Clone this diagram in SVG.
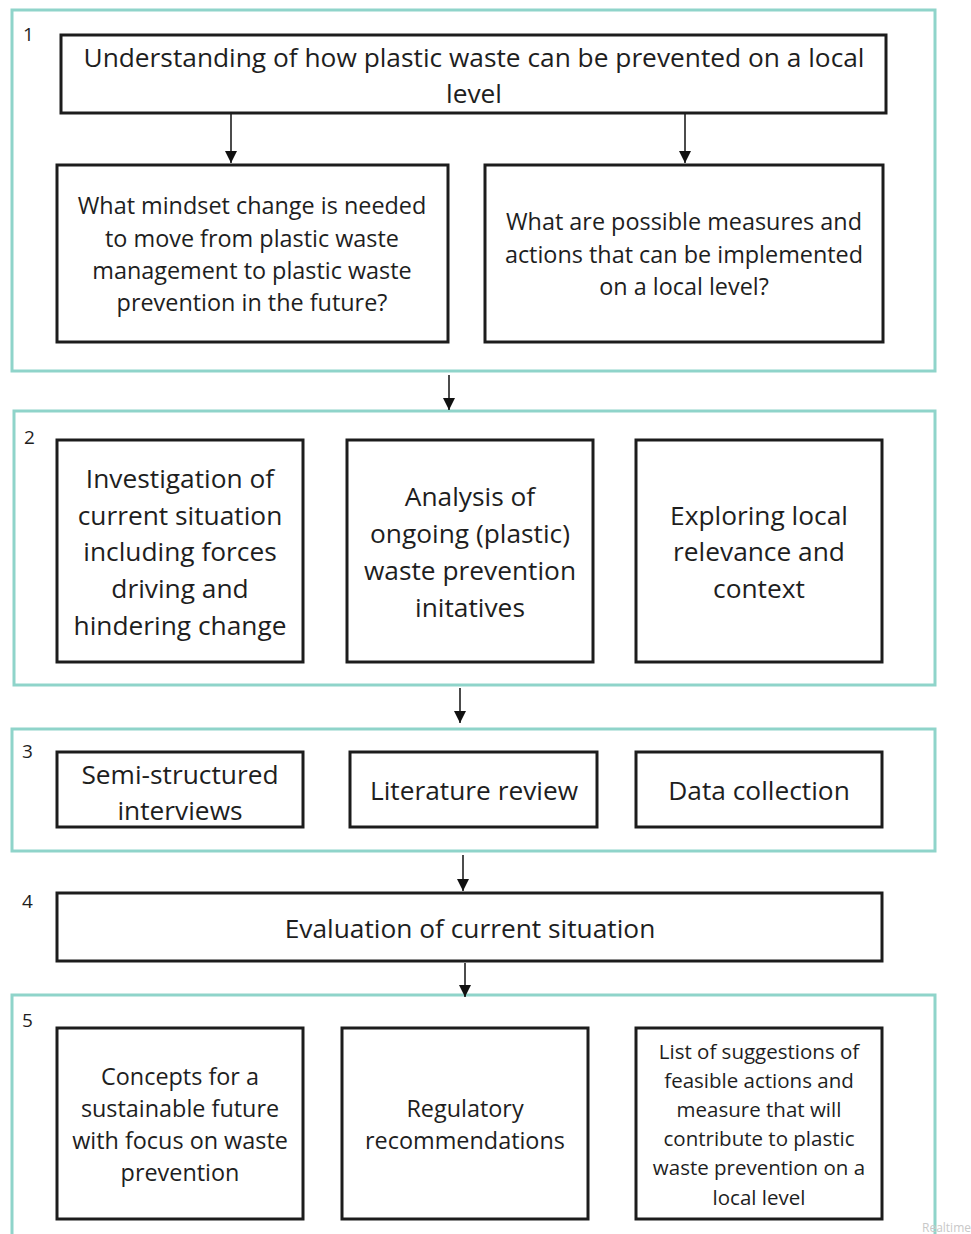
<svg xmlns="http://www.w3.org/2000/svg" width="971" height="1234" viewBox="0 0 971 1234">
  <style>
    .frame { fill: none; stroke: #8fd4ca; stroke-width: 3; }
    .box { fill: #ffffff; stroke: #1c1c1c; stroke-width: 3; }
    .t { font-family: "Open Sans", "Liberation Sans", sans-serif; fill: #1e1e1e; text-anchor: middle; }
    .lg { font-size: 26.3px; }
    .md { font-size: 23.4px; }
    .sm { font-size: 20.5px; }
    .num { font-family: "Open Sans", "Liberation Sans", sans-serif; font-size: 19px; fill: #1e1e1e; }
    .conn { stroke: #111; stroke-width: 1.5; fill: none; marker-end: url(#arrow); }
    .wm { font-family: "Open Sans", "Liberation Sans", sans-serif; font-size: 12px; fill: #c8c8c8; }
  </style>
  <defs>
    <marker id="arrow" viewBox="0 0 12 22" refX="12" refY="11" markerWidth="12" markerHeight="22" markerUnits="userSpaceOnUse" orient="auto">
      <path d="M0,5 L12,11 L0,17 Z" fill="#111"/>
    </marker>
  </defs>
  <rect width="971" height="1234" fill="#ffffff"/>

  <!-- phase frames -->
  <g id="frames">
    <rect class="frame" x="12" y="10" width="923" height="361"/>
    <rect class="frame" x="14" y="411" width="921" height="274"/>
    <rect class="frame" x="12" y="729" width="923" height="122"/>
    <path class="frame" d="M12,1240 L12,995 L935,995 L935,1240"/>
  </g>

  <g id="labels">
    <text class="num" x="23" y="41">1</text>
    <text class="num" x="24" y="444">2</text>
    <text class="num" x="22" y="758">3</text>
    <text class="num" x="22" y="908">4</text>
    <text class="num" x="22" y="1027">5</text>
  </g>

  <!-- connectors -->
  <g id="connectors">
    <line class="conn" x1="231" y1="114" x2="231" y2="163"/>
    <line class="conn" x1="685" y1="114" x2="685" y2="163"/>
    <line class="conn" x1="449" y1="375" x2="449" y2="410"/>
    <line class="conn" x1="460" y1="688" x2="460" y2="723"/>
    <line class="conn" x1="463" y1="855" x2="463" y2="891"/>
    <line class="conn" x1="465" y1="963" x2="465" y2="997"/>
  </g>

  <!-- phase 1 -->
  <g id="n-understanding">
    <rect class="box" x="61" y="35" width="825" height="78"/>
    <text class="t lg" x="474" y="67">Understanding of how plastic waste can be prevented on a local</text>
    <text class="t lg" x="474" y="103">level</text>
  </g>
  <g id="n-mindset">
    <rect class="box" x="57" y="165" width="391" height="177"/>
    <text class="t md" x="252" y="214">What mindset change is needed</text>
    <text class="t md" x="252" y="247">to move from plastic waste</text>
    <text class="t md" x="252" y="279">management to plastic waste</text>
    <text class="t md" x="252" y="311">prevention in the future?</text>
  </g>
  <g id="n-measures">
    <rect class="box" x="485" y="165" width="398" height="177"/>
    <text class="t md" x="684" y="230">What are possible measures and</text>
    <text class="t md" x="684" y="263">actions that can be implemented</text>
    <text class="t md" x="684" y="295">on a local level?</text>
  </g>

  <!-- phase 2 -->
  <g id="n-investigation">
    <rect class="box" x="57" y="440" width="246" height="222"/>
    <text class="t lg" x="180" y="488">Investigation of</text>
    <text class="t lg" x="180" y="525">current situation</text>
    <text class="t lg" x="180" y="561">including forces</text>
    <text class="t lg" x="180" y="598">driving and</text>
    <text class="t lg" x="180" y="635">hindering change</text>
  </g>
  <g id="n-analysis">
    <rect class="box" x="347" y="440" width="246" height="222"/>
    <text class="t lg" x="470" y="506">Analysis of</text>
    <text class="t lg" x="470" y="543">ongoing (plastic)</text>
    <text class="t lg" x="470" y="580">waste prevention</text>
    <text class="t lg" x="470" y="617">initatives</text>
  </g>
  <g id="n-exploring">
    <rect class="box" x="636" y="440" width="246" height="222"/>
    <text class="t lg" x="759" y="525">Exploring local</text>
    <text class="t lg" x="759" y="561">relevance and</text>
    <text class="t lg" x="759" y="598">context</text>
  </g>

  <!-- phase 3 -->
  <g id="n-interviews">
    <rect class="box" x="57" y="752" width="246" height="75"/>
    <text class="t lg" x="180" y="784">Semi-structured</text>
    <text class="t lg" x="180" y="820">interviews</text>
  </g>
  <g id="n-literature">
    <rect class="box" x="350" y="752" width="247" height="75"/>
    <text class="t lg" x="474" y="800">Literature review</text>
  </g>
  <g id="n-data">
    <rect class="box" x="636" y="752" width="246" height="75"/>
    <text class="t lg" x="759" y="800">Data collection</text>
  </g>

  <!-- phase 4 -->
  <g id="n-evaluation">
    <rect class="box" x="57" y="893" width="825" height="68"/>
    <text class="t lg" x="470" y="938">Evaluation of current situation</text>
  </g>

  <!-- phase 5 -->
  <g id="n-concepts">
    <rect class="box" x="57" y="1028" width="246" height="191"/>
    <text class="t md" x="180" y="1085">Concepts for a</text>
    <text class="t md" x="180" y="1117">sustainable future</text>
    <text class="t md" x="180" y="1149">with focus on waste</text>
    <text class="t md" x="180" y="1181">prevention</text>
  </g>
  <g id="n-regulatory">
    <rect class="box" x="342" y="1028" width="246" height="191"/>
    <text class="t md" x="465" y="1117">Regulatory</text>
    <text class="t md" x="465" y="1149">recommendations</text>
  </g>
  <g id="n-suggestions">
    <rect class="box" x="636" y="1028" width="246" height="191"/>
    <text class="t sm" x="759" y="1059">List of suggestions of</text>
    <text class="t sm" x="759" y="1088">feasible actions and</text>
    <text class="t sm" x="759" y="1117">measure that will</text>
    <text class="t sm" x="759" y="1146">contribute to plastic</text>
    <text class="t sm" x="759" y="1175">waste prevention on a</text>
    <text class="t sm" x="759" y="1205">local level</text>
  </g>

  <text class="wm" x="922" y="1232">Realtime</text>
</svg>
